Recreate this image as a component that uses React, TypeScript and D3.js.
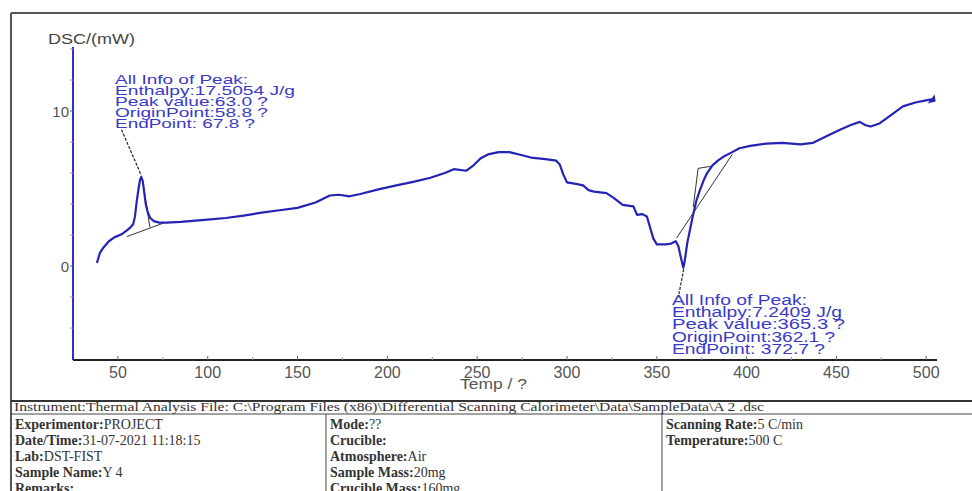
import React from 'react';
import * as d3 from 'd3';

const temps = [38.3, 40, 42, 45, 48, 52, 55, 57, 58.5, 59.5, 60.5, 61.5, 62.3, 63, 63.8, 64.6, 65.5, 66.5, 68, 70, 73, 77, 85, 95, 100, 110, 120, 130, 140, 150, 160, 168, 173, 179, 185, 195, 205, 215, 224, 232, 237, 244, 248, 252, 256, 262, 268, 275, 280, 288, 294, 296, 298, 300, 305, 309, 312, 315, 322, 326, 331, 334, 337, 339, 342, 344.5, 346, 348, 350, 355, 358, 360.5, 362, 363.5, 364.8, 365.5, 367, 370, 372, 374, 376, 378, 381, 384, 387, 392, 396, 402, 411, 420, 430, 437, 445, 452, 458, 463, 466, 469, 474, 480, 487, 494, 500.5, 503];
const dsc = [0.2, 0.85, 1.2, 1.6, 1.85, 2.05, 2.3, 2.5, 2.7, 3.2, 4.2, 5.0, 5.55, 5.75, 5.5, 4.8, 4.0, 3.5, 3.1, 2.9, 2.8, 2.8, 2.85, 2.95, 3.0, 3.1, 3.25, 3.45, 3.6, 3.75, 4.1, 4.55, 4.6, 4.5, 4.65, 4.95, 5.2, 5.45, 5.7, 6.0, 6.25, 6.15, 6.5, 6.95, 7.2, 7.35, 7.35, 7.15, 7.0, 6.9, 6.8, 6.55, 5.9, 5.4, 5.3, 5.2, 4.9, 4.8, 4.7, 4.4, 3.95, 3.9, 3.85, 3.3, 3.35, 3.2, 2.6, 1.8, 1.4, 1.4, 1.45, 1.6, 1.3, 0.5, -0.1, 0.3, 1.5, 3.2, 4.2, 4.9, 5.5, 6.0, 6.5, 6.8, 7.05, 7.35, 7.6, 7.75, 7.9, 7.95, 7.85, 7.95, 8.4, 8.8, 9.1, 9.3, 9.1, 9.0, 9.2, 9.7, 10.3, 10.55, 10.7, 10.75];

// auxiliary analysis lines [T, value]
const base1: [number, number][] = [[55, 1.9], [76, 2.8]];
const drop1: [number, number][] = [[63.8, 5.5], [67.8, 2.5]];
const lead1: [number, number][] = [[52, 8.8], [63, 5.85]];
const base2: [number, number][] = [[361, 1.8], [392, 7.2]];
const tang2: [number, number][] = [[370.3, 3.8], [373, 6.3], [381, 6.45]];
const lead2: [number, number][] = [[365, -0.2], [362, -2.0]];

const xTicks = [50, 100, 150, 200, 250, 300, 350, 400, 450, 500];
const xMinor = d3.range(75, 501, 50);
const yTicks = [0, 10];
const yMinor = [-4, -2, 2, 4, 6, 8, 12, 14];

const peak1Info = ['All Info of Peak:', 'Enthalpy:17.5054 J/g', 'Peak value:63.0 ?', 'OriginPoint:58.8 ?', 'EndPoint: 67.8 ?'];
const peak1Widths = [133, 180, 153, 153, 140];
const peak2Info = ['All Info of Peak:', 'Enthalpy:7.2409 J/g', 'Peak value:365.3 ?', 'OriginPoint:362.1 ?', 'EndPoint: 372.7 ?'];
const peak2Widths = [135, 170, 173, 163, 153];

const headerText = 'Instrument:Thermal Analysis  File:  C:\\Program Files (x86)\\Differential Scanning Calorimeter\\Data\\SampleData\\A 2      .dsc';
const col1: [string, string][] = [['Experimentor:', 'PROJECT'], ['Date/Time:', '31-07-2021 11:18:15'], ['Lab:', 'DST-FIST'], ['Sample Name:', 'Y 4'], ['Remarks:', '']];
const col2: [string, string][] = [['Mode:', '??'], ['Crucible:', ''], ['Atmosphere:', 'Air'], ['Sample Mass:', '20mg'], ['Crucible Mass:', '160mg']];
const col3: [string, string][] = [['Scanning Rate:', '5 C/min'], ['Temperature:', '500 C']];

export default function App() {
  const W = 972, H = 491;
  const x = d3.scaleLinear().domain([25, 506]).range([73, 937]);
  const y = d3.scaleLinear().domain([-6.06, 14.26]).range([360, 45]);
  const pts: [number, number][] = temps.map((t, i) => [t, dsc[i]]);
  const line = d3.line<[number, number]>().x(d => x(d[0])).y(d => y(d[1]));
  const last = pts[pts.length - 1];
  const lx = x(last[0]), ly = y(last[1]);
  const blue = '#2424b4';
  const txtBlue = '#3a3ac8';
  const gray = '#555';

  const rowY = (i: number) => 429 + i * 16;
  const cell = (rows: [string, string][], x0: number) =>
    rows.map(([k, v], i) => (
      <text key={i} x={x0} y={rowY(i)} fontFamily="'Liberation Serif', serif" fontSize={14} fill="#333">
        <tspan fontWeight="bold">{k}</tspan>
        <tspan>{v}</tspan>
      </text>
    ));

  return (
    <svg width={W} height={H} style={{ position: 'absolute', left: 0, top: 0, background: '#fff' }}>
      {/* frame */}
      <line x1={11} y1={13} x2={W} y2={13} stroke="#555" strokeWidth={2} />
      <line x1={11} y1={13} x2={11} y2={H} stroke="#555" strokeWidth={2} />
      {/* table */}
      <line x1={11} y1={401} x2={W} y2={401} stroke="#333" strokeWidth={2} />
      <line x1={11} y1={414} x2={W} y2={414} stroke="#444" strokeWidth={1} />
      <line x1={326} y1={414} x2={326} y2={H} stroke="#444" strokeWidth={1} />
      <line x1={662} y1={414} x2={662} y2={H} stroke="#444" strokeWidth={1} />
      <text x={14} y={411} fontFamily="'Liberation Serif', serif" fontSize={12} fill="#333" textLength={750} lengthAdjust="spacingAndGlyphs">{headerText}</text>
      {cell(col1, 15)}
      {cell(col2, 330)}
      {cell(col3, 666)}

      {/* axes */}
      <line x1={73} y1={47} x2={73} y2={360} stroke="#3030c8" strokeWidth={2} />
      <line x1={73} y1={360} x2={937} y2={360} stroke="#222" strokeWidth={2} />
      {xTicks.map(t => (
        <g key={t}>
          <line x1={x(t)} y1={360} x2={x(t)} y2={356} stroke="#666" strokeWidth={1} />
          <text x={x(t)} y={378} textAnchor="middle" fontFamily="Arial, 'Liberation Sans', sans-serif" fontSize={16} fill={gray}>{t}</text>
        </g>
      ))}
      {xMinor.map(t => (
        <line key={t} x1={x(t)} y1={360} x2={x(t)} y2={357} stroke="#999" strokeWidth={1} />
      ))}
      {yTicks.map(v => (
        <g key={v}>
          <line x1={70} y1={y(v)} x2={73} y2={y(v)} stroke="#666" strokeWidth={1} />
          <text x={69} y={y(v) + 6} textAnchor="end" fontFamily="Arial, 'Liberation Sans', sans-serif" fontSize={15} fill={gray}>{v}</text>
        </g>
      ))}
      {yMinor.map(v => (
        <line key={v} x1={70} y1={y(v)} x2={73} y2={y(v)} stroke="#999" strokeWidth={1} />
      ))}
      <text x={48} y={44} fontFamily="Arial, 'Liberation Sans', sans-serif" fontSize={14} fill="#444" textLength={87} lengthAdjust="spacingAndGlyphs">DSC/(mW)</text>
      <text x={460} y={389} fontFamily="Arial, 'Liberation Sans', sans-serif" fontSize={15} fill={gray} textLength={67} lengthAdjust="spacingAndGlyphs">Temp / ?</text>

      {/* analysis lines */}
      {[base1, drop1, base2, tang2].map((d, i) => (
        <path key={i} d={line(d) || ''} fill="none" stroke="#333" strokeWidth={1} />
      ))}
      {[lead1, lead2].map((d, i) => (
        <path key={i} d={line(d) || ''} fill="none" stroke="#222" strokeWidth={1.2} strokeDasharray="3,1.5" />
      ))}

      {/* curve */}
      <path d={line(pts) || ''} fill="none" stroke={blue} strokeWidth={2.2} strokeLinejoin="round" />
      <path d={`M${lx - 4},${ly + 4} L${lx + 3},${ly - 5} L${lx + 4},${ly + 2} Z`} fill={blue} />

      {/* annotations */}
      {peak1Info.map((s, i) => (
        <text key={i} x={115} y={84 + i * 11} fontFamily="Arial, 'Liberation Sans', sans-serif" fontSize={13} fill={txtBlue} textLength={peak1Widths[i]} lengthAdjust="spacingAndGlyphs">{s}</text>
      ))}
      {peak2Info.map((s, i) => (
        <text key={i} x={672} y={305 + i * 12.2} fontFamily="Arial, 'Liberation Sans', sans-serif" fontSize={14} fill={txtBlue} textLength={peak2Widths[i]} lengthAdjust="spacingAndGlyphs">{s}</text>
      ))}
    </svg>
  );
}
